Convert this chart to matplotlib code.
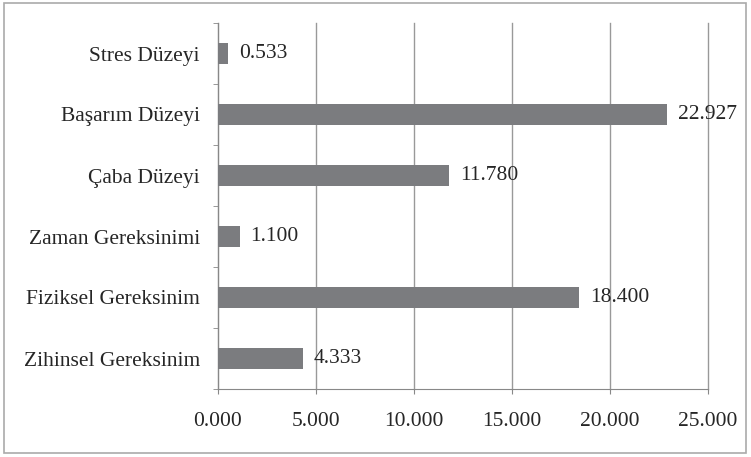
import numpy as np
import matplotlib
matplotlib.use("Agg")
from matplotlib import pyplot as plt
from matplotlib.patches import Rectangle

plt.rcParams['font.family'] = ['Liberation Serif', 'DejaVu Serif']

categories = ['Zihinsel Gereksinim', 'Fiziksel Gereksinim', 'Zaman Gereksinimi',
              'Çaba Düzeyi', 'Başarım Düzeyi', 'Stres Düzeyi']
values = [4.333, 18.400, 1.100, 11.780, 22.927, 0.533]
xticks = [0, 5, 10, 15, 20, 25]

fig = plt.figure(figsize=(7.51, 4.57), dpi=100)
ax = fig.add_axes([218/751, 1 - 389/457, (708-218)/751, (389-23)/457])

y = np.arange(len(categories))
ax.barh(y, values, height=0.36, color='#7b7c7f', zorder=3)
for yi, v in zip(y, values):
    ax.annotate(f"{v:.3f}", (v, yi), xytext=(8, 0), textcoords='offset points',
                va='center', ha='left', fontsize=15.5, color='#262626')

ax.set_xlim(0, 25)
ax.set_ylim(-0.5, len(categories) - 0.5)
ax.set_xticks(xticks)
ax.set_xticklabels([f"{t:.3f}" for t in xticks], fontsize=15.5, color='#262626')
ax.set_yticks(y)
ax.set_yticklabels(categories, fontsize=15.5, color='#262626')
ax.set_yticks(np.arange(-0.5, len(categories)), minor=True)
ax.tick_params(axis='y', which='major', length=0, pad=13)
ax.tick_params(axis='y', which='minor', length=3.5, color='#888888', direction='out')
ax.tick_params(axis='x', length=3.5, color='#888888', pad=13)
ax.grid(axis='x', color='#999999', linewidth=1, zorder=0)
for gl in ax.get_xgridlines():
    gl.set_clip_on(False)
for s in ['top', 'right']:
    ax.spines[s].set_visible(False)
ax.spines['left'].set_color('#888888')
ax.spines['bottom'].set_color('#888888')

fig.patches.append(Rectangle((4/751, 1 - 453/457), 742/751, 450/457,
                             transform=fig.transFigure, fill=False,
                             edgecolor='#aaaaaa', linewidth=1.2))

fig.savefig('out.png', dpi=100)
